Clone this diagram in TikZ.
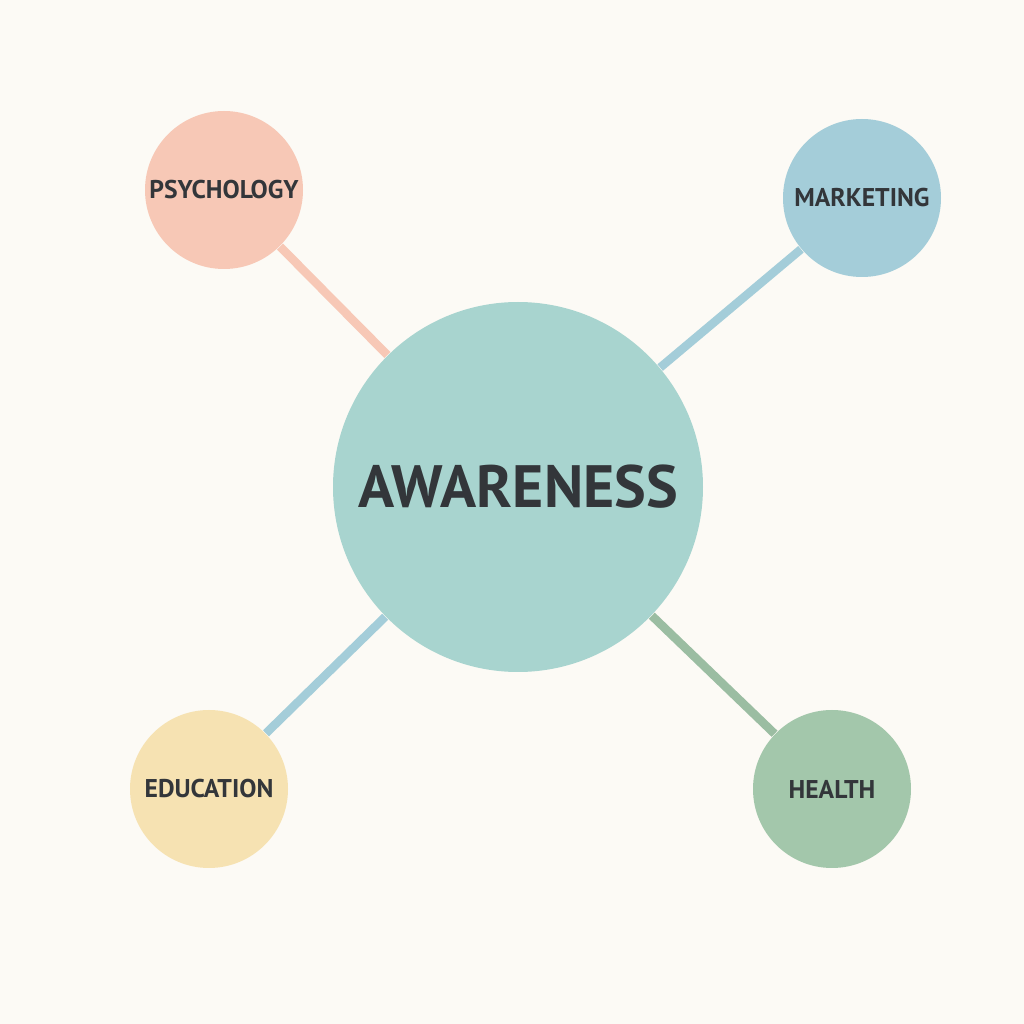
\documentclass[tikz,border=0pt]{standalone}
\usepackage{fontspec}
\setmainfont{PT Sans}
\usetikzlibrary{calc}
\definecolor{bgcol}{HTML}{FCFAF5}
\definecolor{txtcol}{HTML}{33363A}
\definecolor{awcol}{HTML}{A8D4CF}
\definecolor{pscol}{HTML}{F7C8B6}
\definecolor{mkcol}{HTML}{A4CDD9}
\definecolor{edcol}{HTML}{F6E2B2}
\definecolor{hecol}{HTML}{A3C7AB}
\begin{document}
\begin{tikzpicture}[
    topic/.style={circle, inner sep=0pt, minimum size=1.58cm, text=txtcol,
      font=\bfseries\fontsize{7.3}{9}\selectfont},
    link/.style={line width=0.085cm}]
    \fill[bgcol] (0,0) rectangle (10.24,10.24);
    \node[circle, fill=awcol, inner sep=0pt, minimum size=3.70cm, text=txtcol,
      font=\bfseries\fontsize{17}{20}\selectfont] (A) at (5.18, 5.37) {AWARENESS};
    \node[topic, fill=pscol] (P) at (2.24, 8.34) {PSYCHOLOGY};
    \node[topic, fill=mkcol] (M) at (8.62, 8.26) {MARKETING};
    \node[topic, fill=edcol] (E) at (2.09, 2.35) {EDUCATION};
    \node[topic, fill=hecol] (H) at (8.32, 2.35) {HEALTH};
    \draw[link, pscol] (P) -- (A);
    \draw[link, mkcol] (M) -- (A);
    \draw[link, mkcol] (E) -- (A);
    \draw[link, hecol!95!black] (H) -- (A);
  \end{tikzpicture}
\end{document}
